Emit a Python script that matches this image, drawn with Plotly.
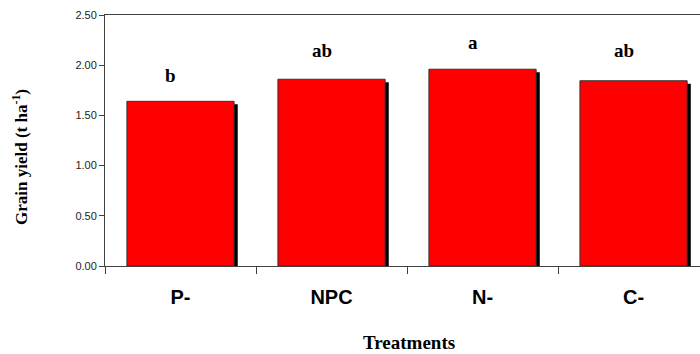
import plotly.graph_objects as go

treatments = ["P-", "NPC", "N-", "C-"]
grain_yield = [1.64, 1.86, 1.96, 1.845]
letters = ["b", "ab", "a", "ab"]
letter_y = [1.90, 2.15, 2.23, 2.15]
y_ticks = [0, 0.5, 1.0, 1.5, 2.0, 2.5]
y_ticktext = ["0.00", "0.50", "1.00", "1.50", "2.00", "2.50"]

serif = "Liberation Serif, Times New Roman, serif"
sans = "Liberation Sans, Arial, sans-serif"

fig = go.Figure()
# shadow
fig.add_trace(go.Bar(
    x=treatments, y=grain_yield, base=-0.03,
    width=0.71, offset=-0.355 + 0.024,
    marker=dict(color="black", line=dict(width=0)),
    hoverinfo="skip", showlegend=False,
))
fig.add_trace(go.Bar(
    x=treatments, y=grain_yield,
    width=0.71, offset=-0.355,
    marker=dict(color="#ff0000", line=dict(color="#333333", width=1)),
    showlegend=False,
))

for t, lab, ly in zip(treatments, letters, letter_y):
    fig.add_annotation(x=t, y=ly, text=f"<b>{lab}</b>", showarrow=False,
                       xshift=-10, font=dict(family=serif, size=19, color="black"))

# axis titles
fig.add_annotation(xref="paper", yref="paper", x=(20 - 105) / 595, y=(266 - 157) / 251,
                   text="<b>Grain yield (t ha<sup>-1</sup>)</b>", textangle=-90, showarrow=False,
                   xanchor="center", yanchor="middle",
                   font=dict(family=serif, size=17, color="black"))
fig.add_annotation(xref="paper", yref="paper", x=(409 - 105) / 595, y=(266 - 342) / 251,
                   text="<b>Treatments</b>", showarrow=False,
                   xanchor="center", yanchor="middle",
                   font=dict(family=serif, size=19, color="black"))

fig.update_layout(
    width=700, height=354,
    margin=dict(l=105, r=0, t=15, b=88),
    plot_bgcolor="white", paper_bgcolor="white",
    barmode="overlay",
    xaxis=dict(
        type="category", range=[-0.5, 3.44], automargin=False,
        showline=True, linecolor="#404040", linewidth=1, mirror=True,
        ticks="outside", ticklen=7, tickcolor="#404040", tickson="boundaries",
        tickfont=dict(family=sans, size=20, color="black"),
        tickprefix="<b>", ticksuffix="</b>",
        ticklabelstandoff=13,
        showgrid=False,
    ),
    yaxis=dict(
        range=[0, 2.5], tickvals=y_ticks, ticktext=y_ticktext, automargin=False,
        showline=True, linecolor="#404040", linewidth=1,
        ticks="outside", ticklen=5, tickcolor="#404040",
        tickfont=dict(family=sans, size=11, color="#222222"),
        showgrid=False, zeroline=False,
    ),
)

fig.write_html("out.html", config={"displayModeBar": False},
               post_script="document.body.style.margin='0';document.body.style.overflow='hidden';")
